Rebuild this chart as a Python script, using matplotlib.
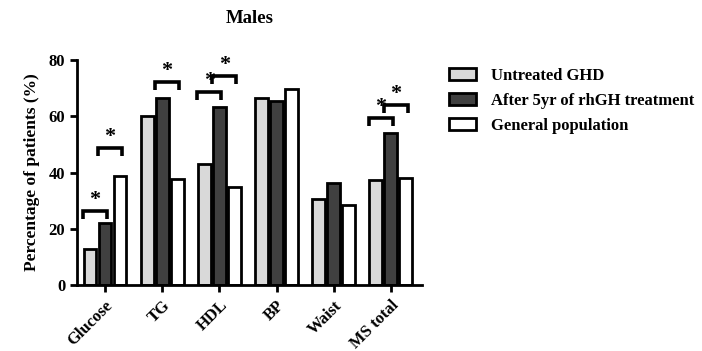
import matplotlib
matplotlib.use("Agg")
import matplotlib.pyplot as plt
import numpy as np

categories = ["Glucose", "TG", "HDL", "BP", "Waist", "MS total"]
series_names = ["Untreated GHD", "After 5yr of rhGH treatment", "General population"]
untreated = [12.7, 60.0, 43.0, 66.6, 30.6, 37.3]
after5yr = [21.9, 66.6, 63.4, 65.4, 36.4, 54.2]
general = [38.8, 37.7, 34.8, 69.7, 28.4, 38.2]
yticks = [0, 20, 40, 60, 80]
# significance brackets: (category index, series a, series b, height)
brackets = [(0, 0, 1, 26.4), (0, 1, 2, 48.7), (1, 1, 2, 72.2),
            (2, 0, 1, 68.7), (2, 1, 2, 74.3), (5, 0, 1, 59.4), (5, 1, 2, 64.0)]

plt.rcParams['font.family'] = ['Liberation Serif', 'DejaVu Serif']
plt.rcParams['font.weight'] = 'bold'

fig = plt.figure(figsize=(7.02, 3.51), dpi=100)
ax = fig.add_axes([0.1097, 0.188, 0.491, 0.641])

x = np.arange(len(categories))
off = 0.263
w = 0.225
colors = ["#d9d9d9", "#404040", "#ffffff"]
data = [untreated, after5yr, general]
handles = []
for i, (vals, c) in enumerate(zip(data, colors)):
    b = ax.bar(x + (i - 1) * off, vals, w, color=c, edgecolor="black", linewidth=2.0,
               label=series_names[i], zorder=2)
    handles.append(b)

for ci, a, bb, h in brackets:
    xa = ci + (a - 1) * off - 0.12
    xb = ci + (bb - 1) * off + 0.03
    leg = 2.8
    ax.plot([xa, xa, xb, xb], [h - leg, h, h, h - leg], color="black", lw=2.6,
            solid_joinstyle="miter", solid_capstyle="butt", zorder=3, clip_on=False)
    ax.text((xa + xb) / 2, h + 0.2, "*", ha="center", va="bottom", fontsize=16,
            fontweight="bold")

ax.set_xlim(-0.49, 5.54)
ax.set_ylim(0, 80)
ax.set_yticks(yticks)
ax.set_xticks(x)
ax.set_xticklabels(categories, rotation=45, ha="right", rotation_mode="anchor",
                   fontsize=12, fontweight="bold")
for lab in ax.get_yticklabels():
    lab.set_fontsize(12)
    lab.set_fontweight("bold")
ax.tick_params(axis="both", direction="out", width=2, length=5)
ax.tick_params(axis="x", pad=4)
for s in ["top", "right"]:
    ax.spines[s].set_visible(False)
for s in ["left", "bottom"]:
    ax.spines[s].set_linewidth(2)
ax.set_ylabel("Percentage of patients (%)", fontsize=12.5, fontweight="bold", labelpad=6)
ax.set_title("Males", fontsize=13.5, fontweight="bold", pad=27)

fig.legend(handles=handles, labels=series_names, loc="upper left",
           bbox_to_anchor=(0.618, 0.85), frameon=False,
           handlelength=1.65, handleheight=0.75, labelspacing=0.55, handletextpad=0.9,
           prop={'weight': 'bold', 'size': 12})

fig.savefig("out.png", dpi=100)
